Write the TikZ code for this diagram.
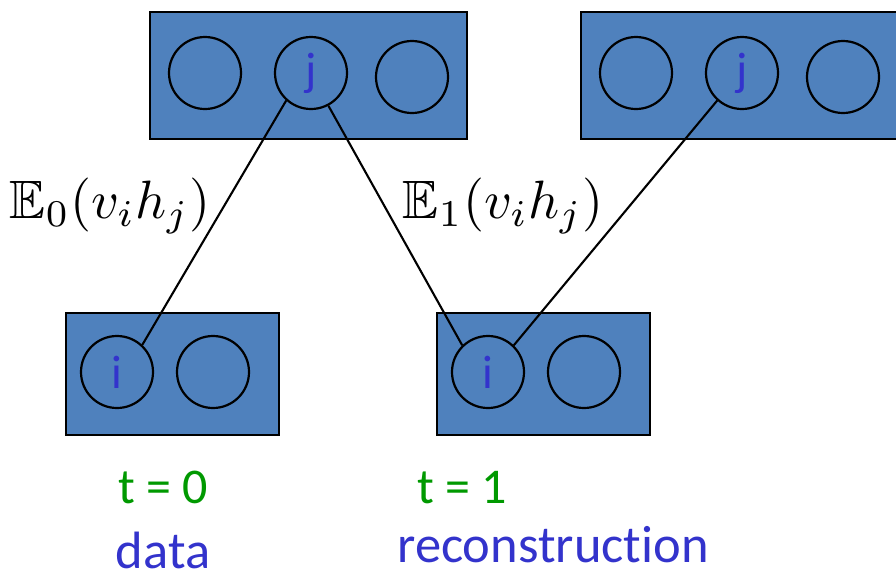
\documentclass[tikz,border=0pt]{standalone}
\usepackage{amssymb}
\usepackage{fontspec}
\newfontfamily\calfont[Ligatures={NoCommon,NoRare,NoDiscretionary}]{Carlito}
\definecolor{boxblue}{RGB}{79,129,189}
\definecolor{letterblue}{RGB}{51,51,204}
\definecolor{tgreen}{RGB}{0,153,0}
\begin{document}
\begin{tikzpicture}[x=1pt,y=-1pt,
  layer/.style={draw=black,line width=2.8pt,fill=boxblue,rectangle,inner sep=0pt},
  unit/.style={draw=black,line width=2.2pt,circle,minimum size=72pt,inner sep=0pt,
    font=\calfont\fontsize{47}{50}\selectfont,text=letterblue},
  conn/.style={draw=black,line width=2.1pt},
  mathlbl/.style={scale=5.4,inner sep=0pt},
  tlbl/.style={font=\calfont\fontsize{50}{56}\selectfont,text=tgreen,anchor=base,inner sep=0pt},
  wlbl/.style={font=\calfont\fontsize{52.5}{58}\selectfont,text=letterblue,anchor=base,inner sep=0pt}]
\clip (0,0) rectangle (896,571);
% layers
\node[layer,minimum width=317pt,minimum height=127pt] (topL) at (308.5,75.5) {};
\node[layer,minimum width=324pt,minimum height=127pt] (topR) at (743,75.5) {};
\node[layer,minimum width=213pt,minimum height=122pt] (botL) at (172.5,374) {};
\node[layer,minimum width=213pt,minimum height=122pt] (botR) at (543.5,374) {};
% units
\node[unit] (a1) at (205,73) {};
\node[unit] (j1) at (311,73) {j};
\node[unit] (a3) at (412,77) {};
\node[unit] (b1) at (636,73) {};
\node[unit] (j2) at (742,73) {j};
\node[unit] (b3) at (843,77) {};
\node[unit] (i1) at (117,372) {i};
\node[unit] (c2) at (213,372) {};
\node[unit] (i2) at (488,372) {i};
\node[unit] (d2) at (584,372) {};
% connections
\draw[conn] (i1.47) -- (j1.228);
\draw[conn] (j1.298) -- (i2.134);
\draw[conn] (j2.228) -- (i2.46);
% labels
\node[mathlbl] (e0) at (110,206) {$\mathbb{E}_0(v_ih_j)$};
\node[mathlbl] (e1) at (503,206) {$\mathbb{E}_1(v_ih_j)$};
\node[tlbl] (t0) at (163.5,503) {t = 0};
\node[tlbl] (t1) at (462.5,503) {t = 1};
\node[wlbl] (data) at (163,568) {data};
\node[wlbl] (rec) at (553,562) {reconstruct\kern0pt ion};
\end{tikzpicture}
\end{document}
